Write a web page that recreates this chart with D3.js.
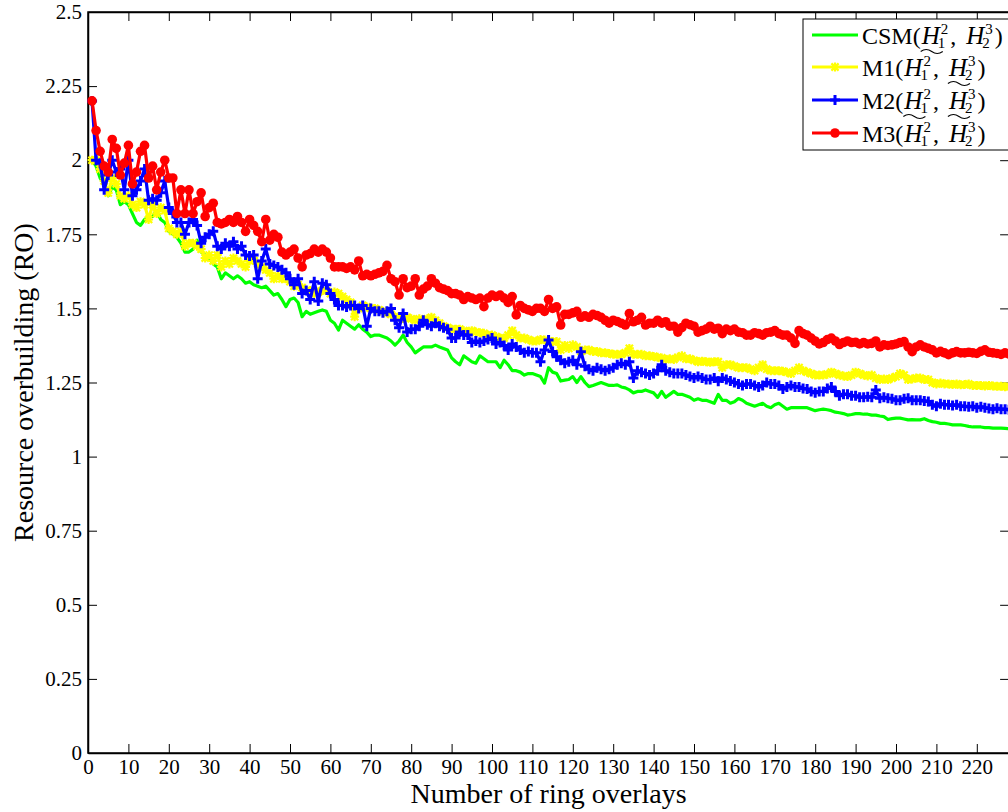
<!DOCTYPE html>
<html>
<head>
<meta charset="utf-8">
<script src="https://cdn.jsdelivr.net/npm/d3@7"></script>
<style>
  body { margin: 0; background: #fff; }
  svg { display: block; }
  svg text { font-family: "Liberation Serif", "Times New Roman", Times, serif !important; fill: #000; }
</style>
</head>
<body>
<div id="chart"></div>
<script>
// series values, one per ring overlay count (1, 2, 3, ...)
var csm = [
  2.00,1.98,1.94,1.92,1.88,1.91,1.90,1.85,1.86,1.85,
  1.82,1.79,1.78,1.80,1.81,1.81,1.83,1.80,1.79,1.76,
  1.75,1.74,1.72,1.69,1.69,1.70,1.73,1.69,1.68,1.67,
  1.65,1.64,1.60,1.62,1.61,1.60,1.61,1.60,1.585,1.59,
  1.58,1.575,1.57,1.575,1.56,1.545,1.55,1.53,1.506,1.53,
  1.535,1.52,1.472,1.49,1.48,1.485,1.49,1.495,1.49,1.46,
  1.45,1.427,1.46,1.45,1.44,1.43,1.445,1.43,1.42,1.405,
  1.41,1.41,1.405,1.40,1.39,1.376,1.39,1.41,1.385,1.37,
  1.35,1.36,1.37,1.37,1.37,1.376,1.37,1.365,1.36,1.333,
  1.32,1.31,1.34,1.33,1.32,1.315,1.34,1.33,1.32,1.32,
  1.32,1.30,1.325,1.31,1.29,1.29,1.285,1.275,1.28,1.28,
  1.275,1.27,1.248,1.30,1.285,1.28,1.255,1.258,1.26,1.27,
  1.25,1.27,1.25,1.236,1.24,1.245,1.25,1.245,1.24,1.24,
  1.242,1.235,1.232,1.225,1.215,1.22,1.22,1.225,1.22,1.215,
  1.20,1.22,1.20,1.21,1.22,1.21,1.21,1.205,1.20,1.19,
  1.195,1.19,1.19,1.185,1.18,1.21,1.19,1.19,1.18,1.185,
  1.196,1.19,1.18,1.175,1.17,1.175,1.18,1.17,1.165,1.175,
  1.18,1.17,1.16,1.165,1.165,1.165,1.165,1.165,1.16,1.155,
  1.158,1.16,1.158,1.155,1.15,1.148,1.145,1.14,1.142,1.145,
  1.145,1.143,1.143,1.14,1.14,1.137,1.135,1.125,1.128,1.13,
  1.13,1.127,1.124,1.125,1.124,1.124,1.128,1.122,1.118,1.116,
  1.112,1.112,1.11,1.107,1.107,1.107,1.105,1.102,1.10,1.10,
  1.10,1.098,1.098,1.096,1.096,1.096,1.095,1.094
];
var m1 = [
  2.00,2.00,1.97,1.93,1.89,1.94,1.92,1.88,1.87,1.88,
  1.85,1.84,1.86,1.85,1.80,1.85,1.82,1.84,1.83,1.77,
  1.76,1.75,1.76,1.71,1.72,1.72,1.71,1.70,1.67,1.68,
  1.66,1.68,1.64,1.66,1.65,1.67,1.66,1.65,1.64,1.66,
  1.67,1.65,1.64,1.63,1.62,1.60,1.61,1.60,1.60,1.59,
  1.575,1.58,1.57,1.56,1.56,1.55,1.555,1.56,1.56,1.55,
  1.555,1.55,1.54,1.53,1.52,1.472,1.50,1.51,1.505,1.50,
  1.50,1.495,1.49,1.485,1.48,1.472,1.47,1.466,1.47,1.465,
  1.46,1.465,1.46,1.465,1.47,1.46,1.45,1.44,1.435,1.43,
  1.43,1.43,1.425,1.42,1.425,1.42,1.418,1.416,1.41,1.41,
  1.405,1.40,1.40,1.41,1.425,1.41,1.40,1.40,1.395,1.39,
  1.39,1.395,1.393,1.39,1.388,1.388,1.36,1.375,1.365,1.377,
  1.37,1.355,1.36,1.36,1.355,1.355,1.35,1.35,1.348,1.345,
  1.345,1.345,1.35,1.365,1.345,1.345,1.345,1.34,1.34,1.338,
  1.335,1.333,1.328,1.33,1.328,1.335,1.34,1.33,1.33,1.325,
  1.32,1.322,1.32,1.318,1.32,1.32,1.30,1.31,1.31,1.305,
  1.30,1.30,1.30,1.295,1.29,1.30,1.31,1.295,1.29,1.29,
  1.29,1.288,1.285,1.28,1.29,1.30,1.29,1.285,1.28,1.275,
  1.275,1.275,1.278,1.285,1.28,1.275,1.272,1.27,1.275,1.285,
  1.28,1.275,1.272,1.275,1.265,1.26,1.262,1.26,1.265,1.27,
  1.28,1.275,1.26,1.262,1.265,1.265,1.26,1.26,1.25,1.245,
  1.248,1.245,1.245,1.243,1.245,1.242,1.243,1.245,1.24,1.24,
  1.24,1.238,1.24,1.238,1.237,1.237,1.236,1.236
];
var m2 = [
  2.20,2.00,1.99,1.90,1.95,2.00,1.96,1.97,1.90,2.00,
  1.88,1.90,1.93,1.97,1.865,1.87,1.865,1.89,1.93,1.84,
  1.82,1.79,1.79,1.75,1.79,1.80,1.78,1.72,1.74,1.75,
  1.76,1.71,1.70,1.72,1.71,1.725,1.70,1.71,1.68,1.677,
  1.68,1.60,1.66,1.70,1.65,1.645,1.64,1.63,1.62,1.60,
  1.58,1.60,1.55,1.56,1.53,1.59,1.525,1.585,1.58,1.55,
  1.53,1.51,1.51,1.505,1.51,1.51,1.50,1.51,1.44,1.50,
  1.49,1.49,1.485,1.49,1.50,1.46,1.435,1.483,1.42,1.43,
  1.43,1.44,1.46,1.445,1.44,1.45,1.44,1.435,1.43,1.40,
  1.40,1.42,1.41,1.41,1.385,1.39,1.385,1.39,1.395,1.40,
  1.38,1.385,1.375,1.36,1.38,1.37,1.36,1.35,1.355,1.35,
  1.35,1.32,1.36,1.393,1.355,1.337,1.325,1.315,1.32,1.325,
  1.31,1.354,1.305,1.295,1.29,1.30,1.295,1.29,1.295,1.30,
  1.31,1.315,1.31,1.32,1.265,1.29,1.285,1.28,1.275,1.28,
  1.29,1.31,1.29,1.285,1.28,1.28,1.28,1.275,1.27,1.265,
  1.27,1.265,1.26,1.26,1.265,1.254,1.265,1.26,1.255,1.25,
  1.245,1.24,1.245,1.245,1.24,1.235,1.24,1.25,1.245,1.245,
  1.24,1.228,1.235,1.24,1.235,1.235,1.23,1.228,1.22,1.215,
  1.22,1.22,1.23,1.235,1.22,1.205,1.21,1.21,1.205,1.205,
  1.20,1.20,1.202,1.20,1.225,1.197,1.20,1.197,1.195,1.19,
  1.19,1.195,1.197,1.19,1.19,1.19,1.188,1.186,1.175,1.17,
  1.178,1.175,1.175,1.172,1.175,1.17,1.17,1.168,1.17,1.165,
  1.168,1.165,1.162,1.16,1.163,1.16,1.16,1.158
];
var m3 = [
  2.20,2.10,2.03,1.98,1.96,2.07,2.04,1.95,1.99,2.05,
  1.92,1.96,2.03,2.05,1.94,1.98,1.90,1.96,2.00,1.94,
  1.94,1.82,1.90,1.82,1.90,1.82,1.86,1.89,1.81,1.84,
  1.855,1.79,1.785,1.79,1.80,1.79,1.81,1.79,1.76,1.80,
  1.78,1.76,1.725,1.80,1.73,1.75,1.74,1.69,1.68,1.69,
  1.70,1.67,1.64,1.68,1.685,1.70,1.69,1.70,1.69,1.67,
  1.64,1.64,1.64,1.635,1.64,1.63,1.66,1.61,1.615,1.61,
  1.615,1.62,1.625,1.645,1.60,1.59,1.545,1.60,1.57,1.575,
  1.60,1.545,1.565,1.575,1.60,1.585,1.57,1.565,1.56,1.55,
  1.55,1.545,1.53,1.54,1.535,1.53,1.535,1.506,1.535,1.545,
  1.54,1.545,1.535,1.52,1.54,1.478,1.51,1.50,1.495,1.49,
  1.50,1.50,1.49,1.53,1.50,1.505,1.444,1.48,1.48,1.485,
  1.49,1.47,1.475,1.47,1.48,1.476,1.47,1.46,1.45,1.46,
  1.456,1.45,1.444,1.483,1.455,1.46,1.47,1.444,1.45,1.45,
  1.46,1.45,1.455,1.44,1.44,1.42,1.435,1.45,1.445,1.44,
  1.42,1.425,1.43,1.44,1.43,1.433,1.415,1.43,1.425,1.43,
  1.42,1.418,1.41,1.41,1.418,1.415,1.41,1.418,1.42,1.425,
  1.415,1.41,1.41,1.40,1.382,1.425,1.415,1.41,1.40,1.39,
  1.38,1.385,1.395,1.40,1.39,1.378,1.385,1.39,1.385,1.386,
  1.38,1.385,1.38,1.382,1.39,1.37,1.377,1.375,1.377,1.38,
  1.385,1.388,1.37,1.354,1.37,1.377,1.37,1.365,1.36,1.35,
  1.355,1.35,1.344,1.35,1.354,1.35,1.35,1.352,1.35,1.348,
  1.355,1.36,1.352,1.35,1.348,1.345,1.35,1.346
];

var seriesNames = ["CSM", "M1", "M2", "M3"];
var seriesColors = ["#00ff00", "#ffff00", "#0000ff", "#ff0000"];
var seriesMarkers = ["none", "star", "plus", "circle"];
// which H gets the tilde underneath in each legend label (M3's fall outside the box)
var seriesTildes = [[true, false], [false, true], [true, true], [false, false]];

var xTicks = [0,10,20,30,40,50,60,70,80,90,100,110,120,130,140,150,160,170,180,190,200,210,220];
var yTicks = [0,0.25,0.5,0.75,1,1.25,1.5,1.75,2,2.25,2.5];
var yTickLabels = ["0","0.25","0.5","0.75","1","1.25","1.5","1.75","2","2.25","2.5"];

var xLabel = "Number of ring overlays";
var yLabel = "Resource overbuilding (RO)";

var W = 1008, H = 812;
var plotLeft = 88, plotTop = 12, plotBottom = 753;
var xMax = 228;
var serif = '"Liberation Serif", "Times New Roman", Times, serif';

var x = d3.scaleLinear()
    .domain([0, xMax])
    .range([plotLeft, plotLeft + xMax * 4.04]);

var y = d3.scaleLinear()
    .domain([0, 2.5])
    .range([plotBottom, plotTop]);

var svg = d3.select("#chart").append("svg")
    .attr("width", W)
    .attr("height", H)
    .attr("font-family", serif);

// plot box
svg.append("rect")
    .attr("x", x(0))
    .attr("y", y(2.5))
    .attr("width", x(xMax) - x(0))
    .attr("height", y(0) - y(2.5))
    .attr("fill", "none")
    .attr("stroke", "#000")
    .attr("stroke-width", 1.5);

// axes, matlab style ticks pointing inwards
var xAxis = d3.axisBottom(x).tickValues(xTicks).tickSizeInner(-9).tickSizeOuter(0).tickPadding(6);
var yAxis = d3.axisLeft(y).tickValues(yTicks).tickSizeInner(-9).tickSizeOuter(0).tickPadding(6)
    .tickFormat(function(d, i) { return yTickLabels[i]; });

svg.append("g")
    .attr("class", "x axis")
    .attr("transform", "translate(0," + plotBottom + ")")
    .call(xAxis);

svg.append("g")
    .attr("class", "y axis")
    .attr("transform", "translate(" + plotLeft + ",0)")
    .call(yAxis);

// top and right ticks
svg.append("g")
    .attr("class", "axis")
    .attr("transform", "translate(0," + plotTop + ")")
    .call(d3.axisTop(x).tickValues(xTicks).tickSizeInner(-9).tickSizeOuter(0).tickFormat(""));

svg.append("g")
    .attr("class", "axis")
    .attr("transform", "translate(" + x(xMax) + ",0)")
    .call(d3.axisRight(y).tickValues(yTicks).tickSizeInner(-9).tickSizeOuter(0).tickFormat(""));

svg.selectAll(".axis").attr("font-family", serif).attr("font-size", 21);
svg.selectAll(".axis path.domain").attr("stroke", "#000").attr("stroke-width", 1.5);
svg.selectAll(".axis .tick line").attr("stroke", "#000").attr("stroke-width", 1);
svg.selectAll(".axis text").attr("fill", "#000");

// axis titles
svg.append("text")
    .attr("x", (x(0) + x(xMax)) / 2)
    .attr("y", 803)
    .attr("text-anchor", "middle")
    .attr("font-size", 28)
    .text(xLabel);

svg.append("text")
    .attr("transform", "translate(33," + ((plotTop + plotBottom) / 2) + ") rotate(-90)")
    .attr("text-anchor", "middle")
    .attr("font-size", 28)
    .text(yLabel);

var allSeries = [csm, m1, m2, m3];

var line = d3.line()
    .x(function(d, i) { return x(i + 1); })
    .y(function(d) { return y(d); });

function drawMarker(g, type, color) {
    if (type == "circle") {
        g.append("circle").attr("r", 4.8).attr("fill", color);
    } else if (type == "plus") {
        g.append("path").attr("d", "M-5,0H5M0,-5V5")
            .attr("stroke", color).attr("stroke-width", 3).attr("fill", "none");
    } else if (type == "star") {
        g.append("path").attr("d", "M-3.6,-3.6L3.6,3.6M-3.6,3.6L3.6,-3.6M0,-4.5V4.5M-4.5,0H4.5")
            .attr("stroke", color).attr("stroke-width", 2.2).attr("fill", "none");
    }
}

var plot = svg.append("g");

allSeries.forEach(function(data, k) {
    var g = plot.append("g").attr("class", "series");
    g.append("path")
        .datum(data)
        .attr("fill", "none")
        .attr("stroke", seriesColors[k])
        .attr("stroke-width", 3.2)
        .attr("stroke-linejoin", "round")
        .attr("d", line);
    if (seriesMarkers[k] != "none") {
        g.selectAll("g.mk")
            .data(data)
            .enter()
            .append("g")
            .attr("class", "mk")
            .attr("transform", function(d, i) { return "translate(" + x(i + 1) + "," + y(d) + ")"; })
            .each(function() { drawMarker(d3.select(this), seriesMarkers[k], seriesColors[k]); });
    }
});

// legend
var legend = svg.append("g").attr("transform", "translate(803,19)");
legend.append("rect")
    .attr("width", 260)
    .attr("height", 131)
    .attr("fill", "#fff")
    .attr("stroke", "#000")
    .attr("stroke-width", 1);

var rowLineY = [16, 48, 81, 114];

function putText(g, px, py, str, size, italic) {
    var t = g.append("text")
        .attr("x", px)
        .attr("y", py)
        .attr("font-size", size)
        .attr("font-style", italic ? "italic" : "normal")
        .text(str);
    return t.node().getComputedTextLength();
}

function drawH(g, px, py, sup, sub, tilde) {
    var w = putText(g, px, py, "H", 25, true);
    var w2 = Math.max(
        putText(g, px + w + 1, py - 10, sup, 15, false),
        putText(g, px + w - 2, py + 4, sub, 15, false));
    if (tilde) {
        var tx = px - 1, tw = w + 4, ty = py + 8;
        g.append("path")
            .attr("d", "M" + tx + "," + ty + " q" + (tw / 4) + ",-4 " + (tw / 2) + ",0 t" + (tw / 2) + ",0")
            .attr("fill", "none")
            .attr("stroke", "#000")
            .attr("stroke-width", 1.1);
    }
    return w + w2 + 3;
}

seriesNames.forEach(function(name, k) {
    var row = legend.append("g").attr("transform", "translate(0," + rowLineY[k] + ")");
    row.append("line")
        .attr("x1", 9).attr("x2", 55)
        .attr("stroke", seriesColors[k])
        .attr("stroke-width", 3.2);
    if (seriesMarkers[k] != "none") {
        var mk = row.append("g").attr("transform", "translate(32,0)");
        drawMarker(mk, seriesMarkers[k], seriesColors[k]);
    }
    var px = 59, py = 8.5;
    px += putText(row, px, py, name + "(", 24, false) + 1;
    px += drawH(row, px, py, "2", "1", seriesTildes[k][0]);
    px += putText(row, px, py, ",", 24, false) + 10;
    px += drawH(row, px, py, "3", "2", seriesTildes[k][1]);
    putText(row, px, py, ")", 24, false);
});
</script>
</body>
</html>
